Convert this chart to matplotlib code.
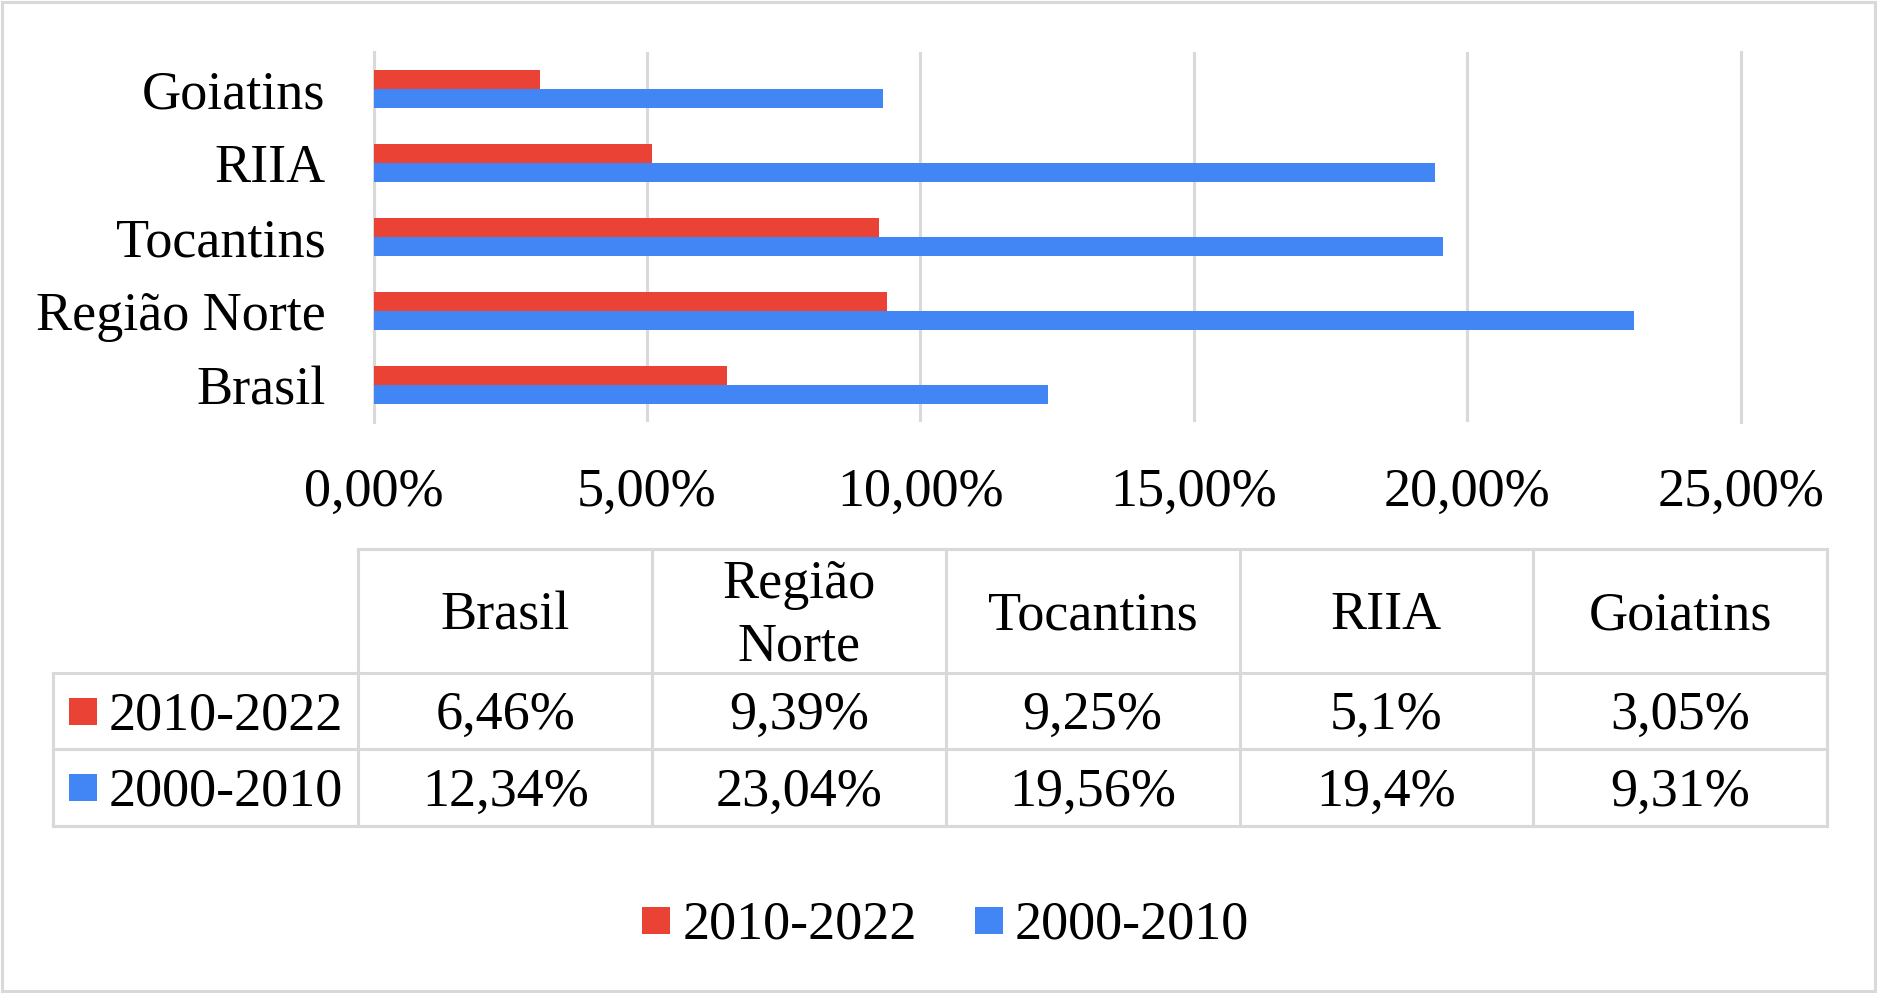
import matplotlib
matplotlib.use('Agg')
import matplotlib.pyplot as plt
from matplotlib.patches import Rectangle
import numpy as np

# ---------------- data ----------------
categories = ['Brasil', 'Região Norte', 'Tocantins', 'RIIA', 'Goiatins']
header_labels = ['Brasil', 'Região\nNorte', 'Tocantins', 'RIIA', 'Goiatins']
series_names = ['2010-2022', '2000-2010']
values_2010_2022 = [6.46, 9.39, 9.25, 5.1, 3.05]
values_2000_2010 = [12.34, 23.04, 19.56, 19.4, 9.31]
xticks = [0, 5, 10, 15, 20, 25]
xtick_labels = ['0,00%', '5,00%', '10,00%', '15,00%', '20,00%', '25,00%']

# ---------------- style ----------------
RED = '#EA4335'
BLUE = '#4285F4'
GRID = '#D9D9D9'
W, H = 1877, 993
FS = 39
CAP = FS * 100 / 72 * 0.662  # cap height in px
plt.rcParams['font.family'] = ['Liberation Serif', 'DejaVu Serif']

fig = plt.figure(figsize=(W / 100, H / 100), dpi=100)

# background overlay axes in pixel coordinates (y down)
bg = fig.add_axes([0, 0, 1, 1], zorder=0)
bg.set_xlim(0, W)
bg.set_ylim(H, 0)
bg.axis('off')

# outer border
bg.add_patch(Rectangle((2, 2), W - 4, H - 4, fill=False, edgecolor=GRID, lw=2.2))

# ---------------- bar chart ----------------
ax_l, ax_r, ax_t, ax_b = 373.5, 1740.8, 52, 422
ax = fig.add_axes([ax_l / W, 1 - ax_b / H, (ax_r - ax_l) / W, (ax_b - ax_t) / H], zorder=1)
ax.patch.set_alpha(0)
y = np.arange(len(categories))
h = 0.263
ax.barh(y + h / 2, values_2010_2022, height=h, color=RED, zorder=3)
ax.barh(y - h / 2, values_2000_2010, height=h, color=BLUE, zorder=3)
ax.set_xlim(0, 25)
ax.set_ylim(-0.5, 4.5)
ax.set_xticks(xticks)
ax.set_xticklabels([])
ax.set_yticks(y)
ax.set_yticklabels(categories, fontsize=FS)
ax.tick_params(axis='both', length=0)
ax.tick_params(axis='y', pad=34.5)
ax.grid(axis='x', color=GRID, lw=2.2, zorder=1)
ax.set_axisbelow(True)
for name, s in ax.spines.items():
    if name in ('left', 'right'):
        s.set_color(GRID)
        s.set_linewidth(2.2)
        s.set_zorder(1)
    else:
        s.set_visible(False)

xt = ax.get_xaxis_transform()
base_off = -(506 - ax_b) / (ax_b - ax_t)
for t, lab in zip(xticks, xtick_labels):
    ax.text(t, base_off, lab, transform=xt, ha='center', va='baseline', fontsize=FS, clip_on=False)

# ---------------- data table ----------------
col_edges = [52.7, 358.5, 652.2, 945.9, 1239.6, 1533.3, 1827]
row_edges = [549.3, 673.3, 749.3, 825.7]
lkw = dict(color=GRID, lw=2.2, solid_capstyle='projecting')
bg.plot([col_edges[1], col_edges[-1]], [row_edges[0]] * 2, **lkw)
for r in row_edges[1:]:
    bg.plot([col_edges[0], col_edges[-1]], [r, r], **lkw)
bg.plot([col_edges[0]] * 2, [row_edges[1], row_edges[-1]], **lkw)
for c in col_edges[1:]:
    bg.plot([c, c], [row_edges[0], row_edges[-1]], **lkw)


def fmt(v):
    return str(v).replace('.', ',') + '%'


col_centers = [(col_edges[i] + col_edges[i + 1]) / 2 for i in range(1, len(col_edges) - 1)]
hdr_c = (row_edges[0] + row_edges[1]) / 2
line_gap = 63.3
for cx, lab in zip(col_centers, header_labels):
    lines = lab.split('\n')
    n = len(lines)
    for k, ln in enumerate(lines):
        yc = hdr_c + (k - (n - 1) / 2) * line_gap
        bg.text(cx, yc + CAP / 2, ln, ha='center', va='baseline', fontsize=FS)

row_series = [(series_names[0], RED, values_2010_2022), (series_names[1], BLUE, values_2000_2010)]
for i, (name, col, vals) in enumerate(row_series):
    rc = (row_edges[i + 1] + row_edges[i + 2]) / 2
    bg.add_patch(Rectangle((69, rc - 13.5), 28, 27, color=col, lw=0))
    bg.text(109, rc + CAP / 2, name, ha='left', va='baseline', fontsize=FS)
    for cx, v in zip(col_centers, vals):
        bg.text(cx, rc + CAP / 2, fmt(v), ha='center', va='baseline', fontsize=FS)

# ---------------- bottom legend ----------------
leg_c = 920.5
leg_items = [(series_names[0], RED, 642.4, 683), (series_names[1], BLUE, 975, 1015)]
for name, col, sx, tx in leg_items:
    bg.add_patch(Rectangle((sx, leg_c - 13.5), 28, 27, color=col, lw=0))
    bg.text(tx, leg_c + CAP / 2, name, ha='left', va='baseline', fontsize=FS)

fig.savefig('out.png', dpi=100)
